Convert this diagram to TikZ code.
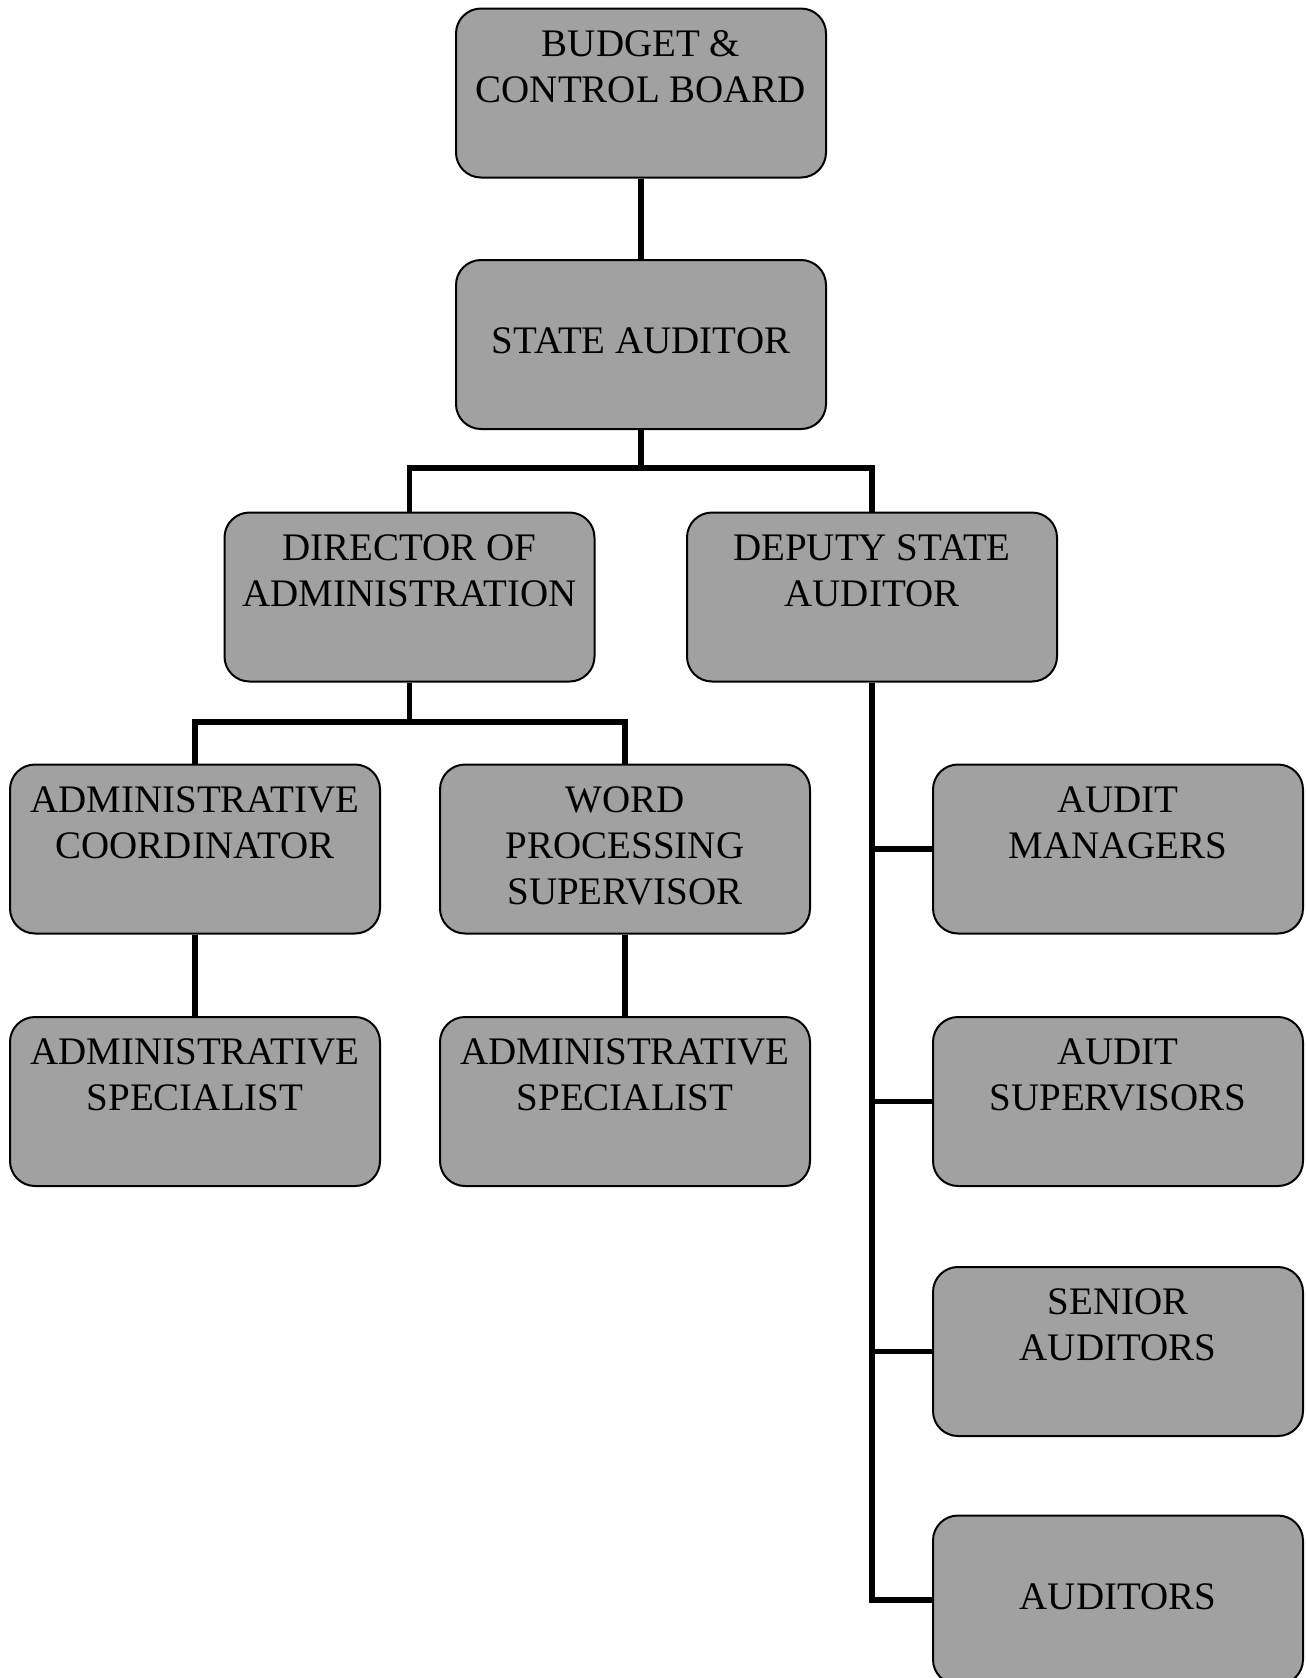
\documentclass[tikz,border=0pt]{standalone}
\usepackage{fontspec}
\setmainfont{Liberation Serif}
\begin{document}
\begin{tikzpicture}[x=.5pt,y=-.5pt,
    office/.style={draw,line width=1pt,rounded corners=12.5pt,fill=black!37,
      minimum width=185pt,minimum height=84.5pt,inner sep=0pt,align=center,
      font=\fontsize{19.5}{23}\selectfont},
    link/.style={line width=2.6pt}]
  \useasboundingbox (0,0) rectangle (1306,1678);
  \clip (0,0) rectangle (1306,1678);

  %% top
  \node (board) at (641,93) [office] {\strut BUDGET \&\\\strut CONTROL BOARD\\\strut};
  \node (auditor) at (641,344.5) [office] {\strut\\\strut STATE AUDITOR\\\strut};

  %% second level
  \node (director) at (409.5,597) [office] {\strut DIRECTOR OF\\\strut ADMINISTRATION\\\strut};
  \node (deputy) at (872,597) [office] {\strut DEPUTY STATE\\\strut AUDITOR\\\strut};

  %% administration side
  \node (coord) at (195,849) [office] {\strut ADMINISTRATIVE\\\strut COORDINATOR\\\strut};
  \node (wordproc) at (625,849) [office] {\strut WORD\\\strut PROCESSING\\\strut SUPERVISOR};
  \node (spec1) at (195,1101.5) [office] {\strut ADMINISTRATIVE\\\strut SPECIALIST\\\strut};
  \node (spec2) at (625,1101.5) [office] {\strut ADMINISTRATIVE\\\strut SPECIALIST\\\strut};

  %% audit side
  \node (managers) at (1118,849) [office] {\strut AUDIT\\\strut MANAGERS\\\strut};
  \node (supervisors) at (1118,1101.5) [office] {\strut AUDIT\\\strut SUPERVISORS\\\strut};
  \node (senior) at (1118,1351.5) [office] {\strut SENIOR\\\strut AUDITORS\\\strut};
  \node (auditors) at (1118,1600) [office] {\strut\\\strut AUDITORS\\\strut};

  %% links
  \draw[link] (board.south) -- (auditor.north);

  \coordinate (topbus) at (641,468);
  \draw[link] (auditor.south) -- (topbus);
  \draw[link] (director.north) |- (topbus) -| (deputy.north);

  \coordinate (admbus) at (409.5,722);
  \draw[link] (director.south) -- (admbus);
  \draw[link] (coord.north) |- (admbus) -| (wordproc.north);
  \draw[link] (coord.south) -- (spec1.north);
  \draw[link] (wordproc.south) -- (spec2.north);

  \draw[link] (deputy.south) |- (auditors.west);
  \draw[link] (managers.west) -- (managers.west -| deputy.south);
  \draw[link] (supervisors.west) -- (supervisors.west -| deputy.south);
  \draw[link] (senior.west) -- (senior.west -| deputy.south);
\end{tikzpicture}
\end{document}
